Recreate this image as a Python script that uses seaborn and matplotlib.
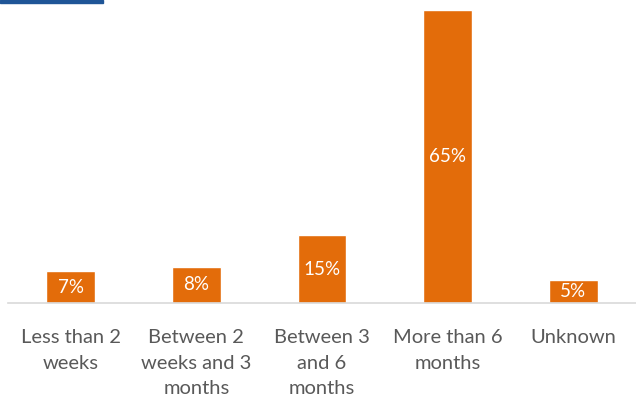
import matplotlib
matplotlib.use("Agg")
import matplotlib.pyplot as plt
import seaborn as sns
import pandas as pd

categories = ["Less than 2\nweeks", "Between 2\nweeks and 3\nmonths", "Between 3\nand 6\nmonths",
              "More than 6\nmonths", "Unknown"]
shares = [7, 8, 15, 65, 5]
value_labels = ["7%", "8%", "15%", "65%", "5%"]

sns.set_theme(style="white")
plt.rcParams["font.family"] = ["Lato", "DejaVu Sans"]

df = pd.DataFrame({"category": categories, "share": shares})

fig = plt.figure(figsize=(6.36, 3.98), dpi=100)
ax = fig.add_axes([8 / 636, 95 / 398, 628 / 636, 293 / 398])

sns.barplot(data=df, x="category", y="share", color="#E36C0A", saturation=1,
            width=0.39, ax=ax)
ax.set_ylim(0, 65)
ax.set_xlim(-0.5, 4.5)

for i, (v, lab) in enumerate(zip(shares, value_labels)):
    ax.text(i, v / 2, lab, ha="center", va="center", color="white", fontsize=13.5)

for s in ["top", "right", "left"]:
    ax.spines[s].set_visible(False)
ax.spines["bottom"].set_color("#D9D9D9")
ax.spines["bottom"].set_linewidth(1.2)
ax.set_yticks([])
ax.set_xlabel("")
ax.set_ylabel("")
ax.tick_params(axis="x", length=0, pad=19, labelsize=14.5, labelcolor="#595959")
for t in ax.get_xticklabels():
    t.set_linespacing(1.6)
    t.set_verticalalignment("top")

# header strip along the top edge
fig.patches.append(plt.Rectangle((0, 1 - 3 / 398), 103 / 636, 3 / 398,
                                 transform=fig.transFigure, color="#1F5597"))

fig.savefig("out.png", dpi=100)
